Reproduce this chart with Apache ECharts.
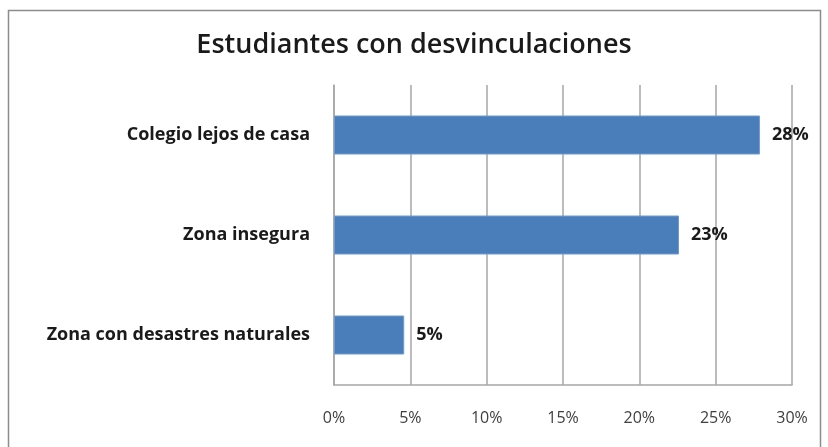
<!DOCTYPE html>
<html><head><meta charset="utf-8">
<script src="https://cdn.jsdelivr.net/npm/echarts@6/dist/echarts.min.js"></script>
<style>html,body{margin:0;padding:0;background:#fff}#c{width:828px;height:447px}</style>
</head><body><div id="c"></div>
<script>
const title = 'Estudiantes con desvinculaciones';
const categories = ['Zona con desastres naturales', 'Zona insegura', 'Colegio lejos de casa'];
const values = [4.6, 22.6, 27.9];
const xTicks = [0, 5, 10, 15, 20, 25, 30];

const chart = echarts.init(document.getElementById('c'));
chart.setOption({
  animation: false,
  backgroundColor: '#fff',
  title: {
    text: title, left: 'center', top: 27,
    textStyle: { fontFamily: 'Open Sans', fontWeight: 600, fontSize: 27, color: '#1a1a1a' }
  },
  graphic: [{
    type: 'rect', shape: { x: 8.5, y: 10.5, width: 812, height: 460 },
    style: { fill: 'none', stroke: '#8c8c8c', lineWidth: 1.5 }, silent: true
  }],
  grid: { left: 334, right: 36, top: 85, bottom: 62, containLabel: false },
  xAxis: {
    type: 'value', min: xTicks[0], max: xTicks[xTicks.length - 1], interval: 5,
    axisLine: { show: true, lineStyle: { color: '#a6a6a6', width: 1.5 } },
    axisTick: { show: false },
    splitLine: { show: true, lineStyle: { color: '#a6a6a6', width: 1.5 } },
    axisLabel: { formatter: v => v + '%', margin: 25, fontFamily: 'Open Sans', fontSize: 16, color: '#404040' }
  },
  yAxis: {
    type: 'category', data: categories,
    axisLine: { show: true, lineStyle: { color: '#a6a6a6', width: 1.5 } },
    axisTick: { show: false },
    axisLabel: { margin: 24, fontFamily: 'Open Sans', fontWeight: 'bold', fontSize: 18, color: '#1a1a1a' }
  },
  series: [{
    type: 'bar', data: values, barWidth: 39,
    itemStyle: { color: '#4A7EBB', borderColor: '#6f9bd0', borderWidth: 1 },
    label: {
      show: true, position: 'right', distance: 12,
      formatter: p => Math.round(p.value) + '%',
      fontFamily: 'Open Sans', fontWeight: 'bold', fontSize: 18, color: '#1a1a1a'
    }
  }]
});
</script></body></html>
